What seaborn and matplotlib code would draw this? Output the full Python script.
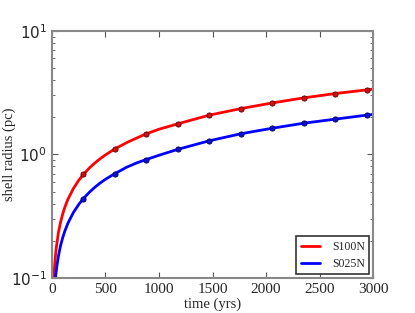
import numpy as np
import pandas as pd
import matplotlib
matplotlib.use("Agg")
import matplotlib.pyplot as plt
import seaborn as sns

# sampled model points (markers)
t_pts = [294, 588, 882, 1176, 1470, 1764, 2058, 2352, 2646, 2940]
r_s100n_pts = [0.69, 1.11, 1.47, 1.77, 2.08, 2.35, 2.61, 2.87, 3.11, 3.33]
r_s025n_pts = [0.44, 0.70, 0.91, 1.10, 1.29, 1.47, 1.63, 1.79, 1.93, 2.08]

# continuous curves
t_s100n_line = [17, 20, 25, 30, 40, 60, 80, 100, 120, 150, 200, 250, 294, 350,
                400, 450, 500, 588, 700, 800, 882, 1000, 1176, 1470, 1764,
                2058, 2352, 2646, 2940, 3000]
r_s100n_line = [0.100, 0.110, 0.128, 0.145, 0.176, 0.233, 0.283, 0.330, 0.374,
                0.436, 0.530, 0.618, 0.69, 0.778, 0.852, 0.923, 0.992, 1.11,
                1.249, 1.368, 1.47, 1.60, 1.77, 2.08, 2.35, 2.61, 2.87, 3.11,
                3.33, 3.38]
t_s025n_line = [33, 35, 40, 45, 60, 80, 100, 120, 150, 200, 250, 294, 350, 400,
                450, 500, 588, 700, 800, 882, 1000, 1176, 1470, 1764, 2058,
                2352, 2646, 2940, 3000]
r_s025n_line = [0.100, 0.105, 0.114, 0.124, 0.150, 0.183, 0.212, 0.240, 0.279,
                0.339, 0.394, 0.44, 0.495, 0.542, 0.587, 0.630, 0.70, 0.790,
                0.860, 0.91, 0.985, 1.10, 1.29, 1.47, 1.63, 1.79, 1.93, 2.08,
                2.11]

sns.set_style("ticks")
plt.rcParams["xtick.direction"] = "in"
plt.rcParams["ytick.direction"] = "in"

fig = plt.figure(figsize=(4.15, 3.13), dpi=100, facecolor="white")
ax = fig.add_axes([0.1253, 0.1118, 0.7735, 0.7895])

sns.lineplot(x=t_s100n_line, y=r_s100n_line, color="red", lw=2, label="S100N",
             sort=False, ax=ax)
sns.lineplot(x=t_s025n_line, y=r_s025n_line, color="blue", lw=2, label="S025N",
             sort=False, ax=ax)
sns.scatterplot(x=t_pts, y=r_s100n_pts, color="#d01010", edgecolor="#600000",
                s=14, linewidth=0.6, zorder=3, legend=False, ax=ax)
sns.scatterplot(x=t_pts, y=r_s025n_pts, color="#1010d0", edgecolor="#000060",
                s=14, linewidth=0.6, zorder=3, legend=False, ax=ax)

ax.set_yscale("log")
ax.set_xlim(0, 3000)
ax.set_ylim(0.1, 10)
ax.set_xticks([0, 500, 1000, 1500, 2000, 2500, 3000])

serif = ["Liberation Serif", "DejaVu Serif"]
ax.set_xlabel("time (yrs)", family=serif, fontsize=10.5, labelpad=1)
ax.set_ylabel("shell radius (pc)", family=serif, fontsize=10.5)
ax.yaxis.set_label_coords(-0.112, 0.5)
for lab in ax.get_xticklabels():
    lab.set_family(serif)
    lab.set_fontsize(11)
ax.tick_params(axis="y", labelsize=11)

ax.tick_params(which="both", top=True, right=True, color="#555555")
ax.tick_params(which="major", length=4)
ax.tick_params(which="minor", length=2)
for sp in ax.spines.values():
    sp.set_color("#888888")
    sp.set_linewidth(1.5)

leg = ax.legend(loc="lower right", fancybox=False, framealpha=1,
                prop={"family": serif, "size": 8.5}, handlelength=1.6,
                handletextpad=1.0, borderpad=0.4, labelspacing=0.4,
                borderaxespad=0.3)
leg.get_frame().set_edgecolor("#333333")
leg.get_frame().set_linewidth(1.2)
for h in leg.get_lines():
    h.set_linewidth(2)

fig.savefig("out.png", dpi=100, facecolor="white")
